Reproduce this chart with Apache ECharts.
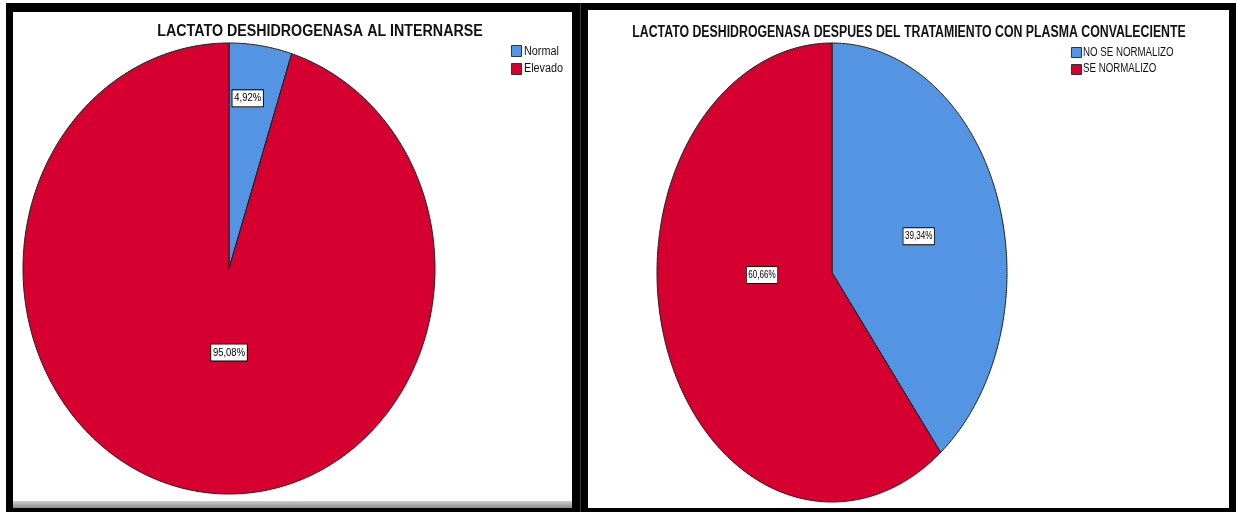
<!DOCTYPE html>
<html>
<head>
<meta charset="utf-8">
<script src="https://cdn.jsdelivr.net/npm/echarts@6/dist/echarts.min.js"></script>
<style>
  html, body { margin: 0; padding: 0; background: #fff; }
  #chart { width: 1236px; height: 512px; }
</style>
</head>
<body>
<div id="chart"></div>
<script>
// Lactate dehydrogenase: at admission and after convalescent plasma treatment
const leftTitle = 'LACTATO DESHIDROGENASA AL INTERNARSE';
const leftCategories = ['Normal', 'Elevado'];
const leftValues = [4.92, 95.08];

const rightTitle = 'LACTATO DESHIDROGENASA DESPUES DEL TRATAMIENTO CON PLASMA CONVALECIENTE';
const rightCategories = ['NO SE NORMALIZO', 'SE NORMALIZO'];
const rightValues = [39.34, 60.66];

const sliceColors = ['#5395E3', '#D5002F'];
const fontFam = '"Liberation Sans", Arial, sans-serif';

// each panel is drawn horizontally compressed; text follows the same squeeze
const leftSqueeze = 0.9;
const rightSqueeze = 0.77;

// label placement inside each slice: fraction of radius and angle nudge (degrees)
const leftLabelPlace = [{ r: 0.76, shift: -2 }, { r: 0.373, shift: -8.86 }];
const rightLabelPlace = [{ r: 0.52, shift: 1.5 }, { r: 0.40, shift: 17.6 }];

function fmtPct(v) {
  return v.toFixed(2).replace('.', ',') + '%';
}

// one custom series per category; each draws an elliptical sector on a [-1,1] grid
function pieSeries(categories, values, axisIndex, labelPlace, squeeze) {
  const total = values.reduce((a, b) => a + b, 0);
  return categories.map((name, k) => {
    const before = values.slice(0, k).reduce((a, b) => a + b, 0);
    return {
      type: 'custom',
      name: name,
      coordinateSystem: 'cartesian2d',
      xAxisIndex: axisIndex,
      yAxisIndex: axisIndex,
      itemStyle: { color: sliceColors[k] },
      data: [[values[k]]],
      renderItem: function (params, api) {
        const v = api.value(0);
        const a0 = before / total * Math.PI * 2;
        const a1 = (before + v) / total * Math.PI * 2;
        const pts = [api.coord([0, 0])];
        const steps = Math.max(2, Math.ceil((a1 - a0) / (Math.PI / 360)));
        for (let i = 0; i <= steps; i++) {
          const t = a0 + (a1 - a0) * i / steps;
          pts.push(api.coord([Math.sin(t), Math.cos(t)]));
        }
        const place = labelPlace[k];
        const mid = (a0 + a1) / 2 + place.shift * Math.PI / 180;
        const lp = api.coord([place.r * Math.sin(mid), place.r * Math.cos(mid)]);
        return {
          type: 'group',
          children: [
            {
              type: 'polygon',
              shape: { points: pts },
              style: { fill: sliceColors[k], stroke: '#1c1c1c', lineWidth: 1 }
            },
            {
              type: 'text',
              x: lp[0],
              y: lp[1],
              scaleX: squeeze,
              z2: 10,
              style: {
                text: fmtPct(v),
                font: '10.5px ' + fontFam,
                fill: '#000',
                align: 'center',
                verticalAlign: 'middle',
                backgroundColor: '#fff',
                borderColor: '#000',
                borderWidth: 1,
                padding: [3, 2, 2, 2]
              }
            }
          ]
        };
      }
    };
  });
}

// squeezed text helper for titles and legend labels
function squeezedText(text, x, y, squeeze, size, weight, align) {
  return {
    type: 'text', x: x, y: y, scaleX: squeeze, z: 5,
    style: {
      text: text, fill: '#111', align: align, verticalAlign: 'middle',
      font: weight + ' ' + size + 'px ' + fontFam
    }
  };
}

const hiddenAxis = { type: 'value', min: -1, max: 1, show: false };

const graphics = [
  { type: 'rect', shape: { x: 6, y: 3, width: 1230, height: 509 }, style: { fill: '#000' }, z: -10 },
  { type: 'rect', shape: { x: 13, y: 12, width: 559, height: 489 }, style: { fill: '#fff' }, z: -9 },
  {
    type: 'rect', shape: { x: 13, y: 501, width: 559, height: 7 }, z: -9,
    style: {
      fill: new echarts.graphic.LinearGradient(0, 0, 0, 1, [
        { offset: 0, color: '#d0d0d0' },
        { offset: 1, color: '#8c8c8c' }
      ])
    }
  },
  { type: 'rect', shape: { x: 580, y: 3, width: 1, height: 509 }, style: { fill: '#3a3a3a' }, z: -9 },
  { type: 'rect', shape: { x: 588, y: 10, width: 641, height: 498 }, style: { fill: '#fff' }, z: -9 },
  squeezedText(leftTitle, 320, 32, leftSqueeze * 0.99, 16, 'bold', 'center'),
  squeezedText(rightTitle, 909, 33, rightSqueeze, 16, 'bold', 'center')
];
leftCategories.forEach((c, i) => {
  graphics.push(squeezedText(c, 524, 52 + i * 17, leftSqueeze, 12, 'normal', 'left'));
});
rightCategories.forEach((c, i) => {
  graphics.push(squeezedText(c, 1083, 53 + i * 16, rightSqueeze * 1.05, 12, 'normal', 'left'));
});

const chart = echarts.init(document.getElementById('chart'), null, { renderer: 'canvas' });
chart.setOption({
  animation: false,
  backgroundColor: '#fff',
  graphic: graphics,
  legend: [
    {
      data: leftCategories, left: 511, top: 45, orient: 'vertical', padding: 0,
      itemWidth: 10, itemHeight: 11, itemGap: 6, icon: 'rect', selectedMode: false,
      formatter: () => '',
      itemStyle: { borderColor: '#333', borderWidth: 1 }
    },
    {
      data: rightCategories, left: 1071, top: 47, orient: 'vertical', padding: 0,
      itemWidth: 10, itemHeight: 10, itemGap: 6, icon: 'rect', selectedMode: false,
      formatter: () => '',
      itemStyle: { borderColor: '#333', borderWidth: 1 }
    }
  ],
  grid: [
    { left: 23, top: 43, width: 412, height: 451 },
    { left: 657, top: 43, width: 350, height: 459 }
  ],
  xAxis: [Object.assign({ gridIndex: 0 }, hiddenAxis), Object.assign({ gridIndex: 1 }, hiddenAxis)],
  yAxis: [Object.assign({ gridIndex: 0 }, hiddenAxis), Object.assign({ gridIndex: 1 }, hiddenAxis)],
  series: [].concat(
    pieSeries(leftCategories, leftValues, 0, leftLabelPlace, leftSqueeze),
    pieSeries(rightCategories, rightValues, 1, rightLabelPlace, rightSqueeze)
  )
});
</script>
</body>
</html>
